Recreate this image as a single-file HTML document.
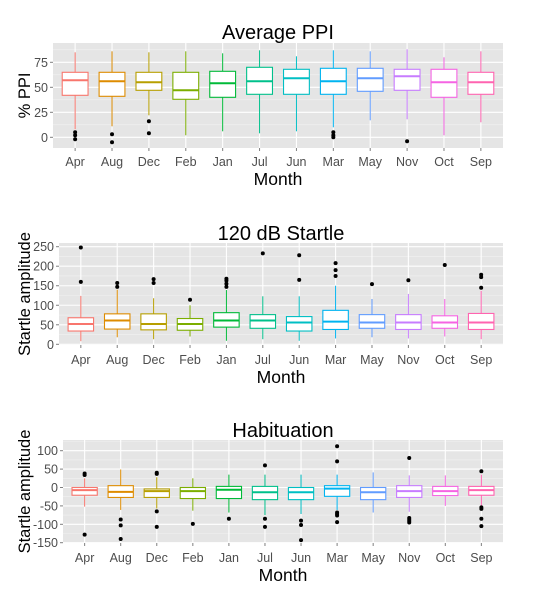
<!DOCTYPE html>
<html><head><meta charset="utf-8"><style>
body{margin:0;background:#fff;}
svg text{font-family:"Liberation Sans",sans-serif;}
</style></head><body>
<svg id="chart" width="538" height="595" xmlns="http://www.w3.org/2000/svg"></svg>
<script>
const months=["Apr","Aug","Dec","Feb","Jan","Jul","Jun","Mar","May","Nov","Oct","Sep"];
const colors=["#F8766D","#DE8C00","#B79F00","#7CAE00","#00BA38","#00C08B","#00BFC4","#00B4F0","#619CFF","#C77CFF","#F564E3","#FF64B0"];
// [low whisker, Q1, median, Q3, high whisker]
const ppiStats=[[8,42,57,65,85],[11,41,56,65,86],[22,47,55,65,85],[2,38,47,65,86],[6,40,54,66,84],[4,43,56,70,87],[6,43,59,68,81],[10,43,56,69,87],[17,46,59,69,86],[18,47,61,68,88],[2,40,55,68,80],[15,43,55,65,86]];
const ppiOut=[[5,2,-2],[3,-5],[16,4],[],[],[],[],[5,2,0],[],[-4],[],[]];
const ppiTicks=[0,25,50,75];
const startleStats=[[8,34,52,68,124],[18,39,61,78,140],[13,37,52,78,118],[20,36,52,66,100],[9,44,61,81,139],[13,41,61,76,123],[9,34,56,71,123],[15,38,58,87,150],[18,41,56,76,116],[15,38,56,76,129],[20,41,56,73,116],[13,38,56,79,137]];
const startleOut=[[248,160],[157,147],[167,157],[114],[168,163,155,147],[233],[228,165],[208,190,175],[154],[164],[203],[178,172,145]];
const startleTicks=[0,50,100,150,200,250];
const habStats=[[-52,-21,-7,0,25],[-61,-27,-12,5,49],[-57,-27,-10,-4,28],[-63,-30,-10,0,25],[-68,-30,-6,3,35],[-75,-33,-13,3,35],[-72,-33,-13,0,35],[-61,-24,-3,5,35],[-68,-33,-13,0,41],[-66,-27,-10,5,33],[-50,-22,-10,3,33],[-52,-21,-7,3,35]];
const habOut=[[38,34,-128],[-87,-103,-140],[40,37,-65,-107],[-99],[-85],[60,-85,-107],[-90,-102,-143],[112,71,-68,-72,-76,-94],[],[80,-83,-87,-91,-95],[],[44,-54,-58,-85,-105]];
const habTicks=[-150,-100,-50,0,50,100];

const NS="http://www.w3.org/2000/svg";
const svg=document.getElementById('chart');
function mk(tag,attrs,parent){const e=document.createElementNS(NS,tag);for(const k in attrs)e.setAttribute(k,attrs[k]);(parent||svg).appendChild(e);return e;}

const panels=[
 {name:"ppi",title:"Average PPI",ytitle:"% PPI",stats:ppiStats,out:ppiOut,ticks:ppiTicks,
  x0:53,x1:503,top:43,bot:148,v0:0,p0:137.3,v1:75,p1:62.3,titleY:39,xlabY:166,monthY:185,ytX:30},
 {name:"startle",title:"120 dB Startle",ytitle:"Startle amplitude",stats:startleStats,out:startleOut,ticks:startleTicks,
  x0:59,x1:503,top:243,bot:345,v0:0,p0:344.3,v1:250,p1:246.7,titleY:240,xlabY:364,monthY:383,ytX:30},
 {name:"habituation",title:"Habituation",ytitle:"Startle amplitude",stats:habStats,out:habOut,ticks:habTicks,
  x0:63,x1:503,top:440,bot:543,v0:-150,p0:542.7,v1:100,p1:450.7,titleY:437,xlabY:562,monthY:581,ytX:30}
];

panels.forEach(P=>{
  const g=mk('g',{});
  
  
  const y=v=>P.p0+(v-P.v0)*(P.p1-P.p0)/(P.v1-P.v0);
  const n=months.length;
  const step=(P.x1-P.x0)/(n+0.2);
  const x=i=>P.x0+step*(0.6+i);
  const bg=mk('rect',{x:P.x0,y:P.top,width:P.x1-P.x0,height:P.bot-P.top,fill:"#E5E5E5"},g);
  
  const tstep=P.ticks[1]-P.ticks[0];
  for(let v=P.ticks[0]-tstep/2; v<=P.ticks[P.ticks.length-1]+tstep; v+=tstep){
    const py=y(v); if(py<P.top||py>P.bot) continue;
    mk('line',{x1:P.x0,x2:P.x1,y1:py,y2:py,stroke:"#F2F2F2","stroke-width":0.6},g);
  }
  P.ticks.forEach(v=>{
    const py=y(v);
    const l=mk('line',{x1:P.x0,x2:P.x1,y1:py,y2:py,stroke:"#fff","stroke-width":1.1},g);
    
    mk('line',{x1:P.x0-3,x2:P.x0,y1:py,y2:py,stroke:"#7f7f7f","stroke-width":1},g);
    const t=mk('text',{x:P.x0-5,y:py+4.5,"text-anchor":"end","font-size":12.5,fill:"#4D4D4D"},g);
    t.textContent=v;
  });
  months.forEach((m,i)=>{
    const px=x(i);
    mk('line',{x1:px,x2:px,y1:P.top,y2:P.bot,stroke:"#fff","stroke-width":1.1},g);
    mk('line',{x1:px,x2:px,y1:P.bot,y2:P.bot+3,stroke:"#7f7f7f","stroke-width":1},g);
    const t=mk('text',{x:px,y:P.xlabY,"text-anchor":"middle","font-size":12.5,fill:"#4D4D4D"},g);
    t.textContent=m;
  });
  const bw=step*0.7;
  P.stats.forEach((s,i)=>{
    const px=x(i),c=colors[i];
    const bx=mk('g',{},g);
    
    
    mk('line',{x1:px,x2:px,y1:y(s[0]),y2:y(s[1]),stroke:c,"stroke-width":1},bx);
    mk('line',{x1:px,x2:px,y1:y(s[3]),y2:y(s[4]),stroke:c,"stroke-width":1},bx);
    mk('rect',{x:px-bw/2,y:y(s[3]),width:bw,height:y(s[1])-y(s[3]),fill:"#fff",stroke:c,"stroke-width":1.1},bx);
    mk('line',{x1:px-bw/2,x2:px+bw/2,y1:y(s[2]),y2:y(s[2]),stroke:c,"stroke-width":2},bx);
    P.out[i].forEach(v=>{
      const o=mk('circle',{cx:px,cy:y(v),r:2,fill:"#000"},bx);
      
    });
  });
  const tt=mk('text',{x:(P.x0+P.x1)/2,y:P.titleY,"text-anchor":"middle","font-size":20,fill:"#000"},g);
  tt.textContent=P.title;
  const xt=mk('text',{x:(P.x0+P.x1)/2,y:P.monthY,"text-anchor":"middle","font-size":17.5,fill:"#000"},g);
  xt.textContent="Month";
  const cy=(P.top+P.bot)/2;
  const yt=mk('text',{x:0,y:0,"text-anchor":"middle","font-size":16.5,fill:"#000",transform:`translate(${P.ytX},${cy}) rotate(-90)`},g);
  yt.textContent=P.ytitle;
});
</script>
</body></html>
